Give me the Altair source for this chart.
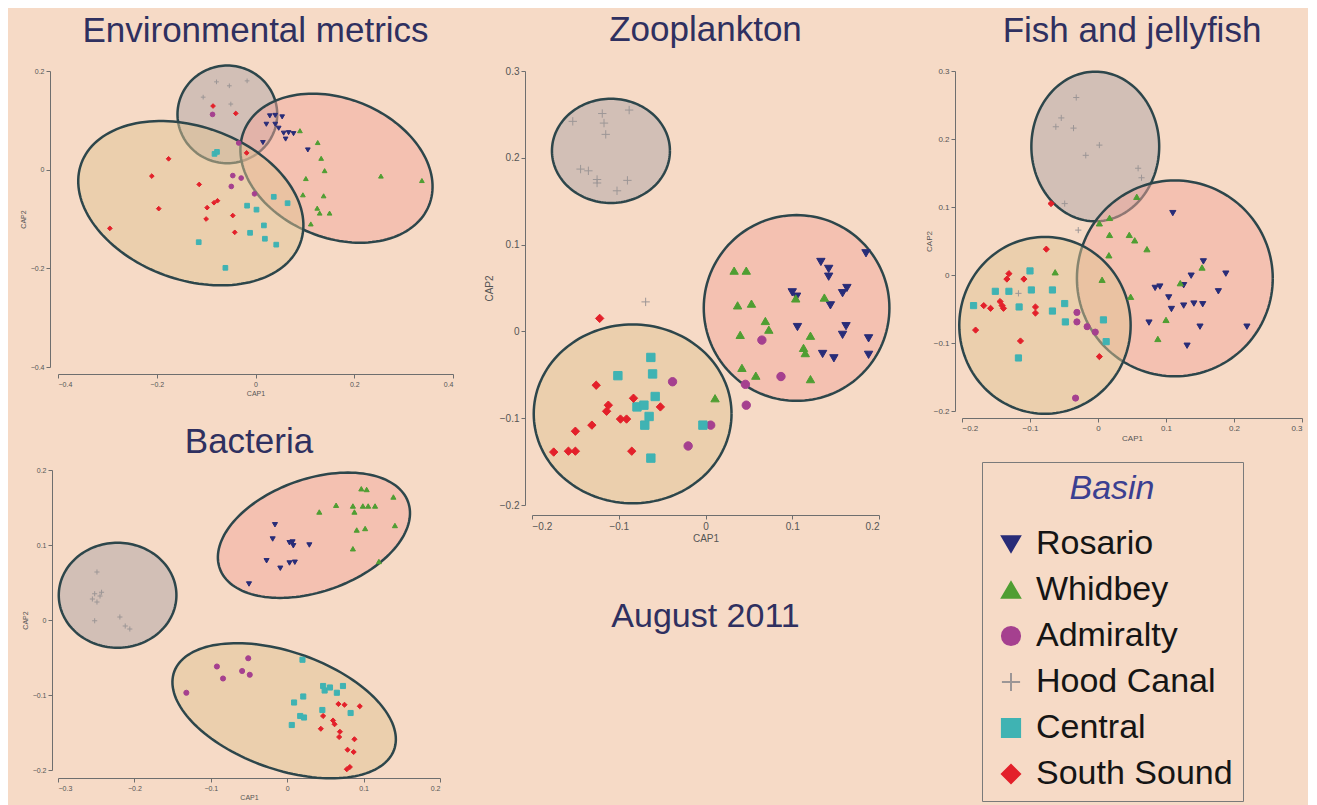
import altair as alt
import numpy as np
import pandas as pd

FONT = "Liberation Sans, Arial, sans-serif"
NAVY = "#2f3060"
BG = "#f6dac6"

BASINS = ["Rosario", "Whidbey", "Admiralty", "Hood Canal", "Central", "South Sound"]
COLORS = ["#282c78", "#4f9e32", "#a5408f", "#9c9696", "#3fb3b3", "#e3202a"]
PLUS = "M-1,0H1M0,-1V1"
SHAPES = ["triangle-down", "triangle-up", "circle", PLUS, "square", "diamond"]

# ---------------- Environmental metrics ----------------
env_rosario = [(0.029, 0.109), (0.040, 0.110), (0.054, 0.107), (0.022, 0.092), (0.040, 0.092),
               (0.047, 0.084), (0.057, 0.074), (0.067, 0.075), (0.077, 0.073), (0.061, 0.062),
               (0.015, 0.055), (0.106, 0.040)]
env_whidbey = [(0.090, 0.079), (0.126, 0.055), (0.133, 0.023), (0.140, -0.002), (0.102, -0.018),
               (0.138, -0.053), (0.096, -0.051), (0.125, -0.078), (0.130, -0.088), (0.150, -0.088),
               (0.112, -0.110), (0.254, -0.013), (0.337, -0.022)]
env_admiralty = [(-0.087, 0.112), (-0.034, 0.054), (-0.046, -0.012), (-0.049, -0.034),
                 (-0.029, -0.017), (-0.002, -0.049)]
env_hood = [(-0.079, 0.178), (-0.053, 0.170), (-0.017, 0.180), (-0.106, 0.147), (-0.050, 0.133)]
env_central = [(-0.083, 0.032), (-0.078, 0.036), (-0.017, -0.073), (0.002, -0.081), (0.037, -0.055),
               (0.065, -0.068), (0.017, -0.113), (-0.011, -0.128), (0.019, -0.140), (0.042, -0.152),
               (-0.115, -0.147), (-0.061, -0.199)]
env_south = [(-0.086, 0.129), (-0.040, 0.114), (-0.018, 0.034), (-0.176, 0.022), (-0.210, -0.013),
             (-0.114, -0.030), (-0.196, -0.079), (-0.295, -0.119), (-0.098, -0.077), (-0.084, -0.067),
             (-0.077, -0.063), (-0.100, -0.100), (-0.046, -0.093), (-0.042, -0.127)]
# ellipses: (group, cx, cy, semi-axis a, semi-axis b, angle deg)
env_ellipses = [("hood", -0.057, 0.112, 0.101, 0.099, 0),
                ("pink", 0.164, 0.003, 0.202, 0.141, -22),
                ("tan", -0.131, -0.068, 0.236, 0.155, -20)]

# ---------------- Bacteria ----------------
bac_rosario = [(-0.016, 0.127), (-0.019, 0.108), (0.003, 0.103), (0.007, 0.104), (0.008, 0.099),
               (0.029, 0.100), (-0.027, 0.079), (-0.009, 0.069), (0.003, 0.076), (0.010, 0.077),
               (-0.050, 0.048)]
bac_whidbey = [(0.042, 0.144), (0.064, 0.153), (0.086, 0.152), (0.097, 0.175), (0.104, 0.174),
               (0.088, 0.144), (0.099, 0.152), (0.106, 0.152), (0.115, 0.152), (0.139, 0.164),
               (0.091, 0.120), (0.102, 0.122), (0.141, 0.126), (0.086, 0.095), (0.120, 0.078)]
bac_admiralty = [(-0.092, -0.062), (-0.084, -0.078), (-0.051, -0.051), (-0.059, -0.068),
                 (-0.049, -0.073), (-0.132, -0.097)]
bac_hood = [(-0.249, 0.064), (-0.252, 0.035), (-0.255, 0.028), (-0.249, 0.024), (-0.245, 0.032),
            (-0.243, 0.037), (-0.252, -0.001), (-0.219, 0.004), (-0.212, -0.008), (-0.206, -0.012)]
bac_central = [(0.020, -0.053), (0.047, -0.088), (0.049, -0.094), (0.056, -0.090), (0.065, -0.097),
               (0.073, -0.088), (0.021, -0.102), (0.009, -0.110), (0.017, -0.128), (0.022, -0.130),
               (0.006, -0.140), (0.046, -0.120), (0.083, -0.124)]
bac_south = [(0.047, -0.128), (0.067, -0.112), (0.075, -0.113), (0.095, -0.115), (0.060, -0.134),
             (0.062, -0.139), (0.044, -0.145), (0.069, -0.149), (0.068, -0.156), (0.088, -0.159),
             (0.079, -0.173), (0.087, -0.176), (0.078, -0.199), (0.082, -0.196)]
bac_ellipses = [("hood", -0.222, 0.033, 0.077, 0.070, 0),
                ("pink", 0.035, 0.113, 0.131, 0.075, 20),
                ("tan", -0.004, -0.121, 0.153, 0.078, -20)]

# ---------------- Zooplankton ----------------
zoo_rosario = [(0.185, 0.090), (0.133, 0.080), (0.142, 0.072), (0.142, 0.063), (0.163, 0.050),
               (0.158, 0.044), (0.100, 0.045), (0.105, 0.040), (0.144, 0.030), (0.106, 0.005),
               (0.162, 0.006), (0.158, -0.004), (0.188, -0.008), (0.135, -0.026), (0.148, -0.031),
               (0.188, -0.027)]
zoo_whidbey = [(0.033, 0.070), (0.047, 0.070), (0.037, 0.030), (0.053, 0.032), (0.069, 0.012),
               (0.073, 0.002), (0.040, -0.004), (0.121, -0.005), (0.113, -0.019), (0.115, -0.025),
               (0.137, 0.039), (0.042, -0.042), (0.058, -0.051), (0.121, -0.055), (0.011, -0.077),
               (0.104, 0.038)]
zoo_admiralty = [(0.065, -0.010), (0.087, -0.052), (-0.038, -0.058), (0.046, -0.061), (0.047, -0.085),
                 (0.006, -0.108), (-0.020, -0.132)]
zoo_hood = [(-0.153, 0.242), (-0.119, 0.251), (-0.117, 0.240), (-0.115, 0.227), (-0.088, 0.255),
            (-0.144, 0.187), (-0.135, 0.185), (-0.125, 0.175), (-0.125, 0.171), (-0.102, 0.162),
            (-0.090, 0.174), (-0.069, 0.034)]
zoo_central = [(-0.063, -0.030), (-0.101, -0.051), (-0.061, -0.049), (-0.058, -0.075), (-0.079, -0.087),
               (-0.071, -0.085), (-0.065, -0.098), (-0.070, -0.108), (-0.003, -0.108), (-0.063, -0.146)]
zoo_south = [(-0.122, 0.015), (-0.126, -0.062), (-0.083, -0.077), (-0.112, -0.085), (-0.114, -0.092),
             (-0.052, -0.087), (-0.131, -0.108), (-0.098, -0.101), (-0.091, -0.101), (-0.150, -0.115),
             (-0.175, -0.139), (-0.158, -0.138), (-0.150, -0.138), (-0.085, -0.138)]
zoo_ellipses = [("hood", -0.109, 0.208, 0.068, 0.060, 0),
                ("pink", 0.105, 0.027, 0.107, 0.107, 0),
                ("tan", -0.084, -0.095, 0.114, 0.103, 0)]

# ---------------- Fish and jellyfish ----------------
fish_rosario = [(0.110, 0.091), (0.155, 0.020), (0.188, 0.002), (0.137, -0.001), (0.084, -0.019),
                (0.091, -0.017), (0.126, -0.015), (0.177, -0.024), (0.104, -0.033), (0.108, -0.050),
                (0.126, -0.045), (0.141, -0.042), (0.154, -0.043), (0.075, -0.070), (0.150, -0.076),
                (0.131, -0.104), (0.219, -0.076)]
fish_whidbey = [(-0.063, 0.004), (0.057, 0.115), (0.002, 0.076), (0.017, 0.084), (0.017, 0.059),
                (0.046, 0.059), (0.054, 0.051), (0.016, 0.029), (0.072, 0.038), (0.006, -0.007),
                (0.048, -0.032), (0.100, -0.066), (0.088, -0.094), (0.121, -0.012), (0.153, 0.011)]
fish_admiralty = [(-0.031, -0.055), (-0.031, -0.069), (-0.016, -0.076), (-0.004, -0.084), (-0.033, -0.181)]
fish_hood = [(-0.032, 0.261), (-0.054, 0.231), (-0.062, 0.218), (-0.036, 0.216), (0.002, 0.191),
             (-0.018, 0.176), (0.059, 0.157), (0.064, 0.143), (-0.049, 0.105), (-0.029, 0.066),
             (-0.117, -0.027)]
fish_central = [(-0.100, 0.006), (-0.151, -0.024), (-0.131, -0.024), (-0.098, -0.022), (-0.067, -0.022),
                (-0.183, -0.045), (-0.116, -0.047), (-0.049, -0.042), (-0.067, -0.053), (-0.048, -0.069),
                (0.008, -0.066), (0.012, -0.098), (-0.117, -0.122)]
fish_south = [(-0.069, 0.105), (-0.076, 0.038), (-0.131, 0.002), (-0.134, -0.006), (-0.109, -0.006),
              (-0.168, -0.045), (-0.158, -0.049), (-0.144, -0.039), (-0.141, -0.045), (-0.139, -0.049),
              (-0.092, -0.047), (-0.092, -0.056), (-0.180, -0.081), (-0.114, -0.097), (0.002, -0.120)]
fish_ellipses = [("hood", -0.004, 0.189, 0.094, 0.110, 0),
                 ("pink", 0.113, -0.005, 0.144, 0.144, 0),
                 ("tan", -0.078, -0.074, 0.126, 0.130, 0)]

ELLIPSE_FILL = {"hood": "#aea4a6", "pink": "#f2a89c", "tan": "#e0c494"}
OUTLINE = "#2d464b"


def points_df(groups):
    rows = []
    for basin, pts in zip(BASINS, groups):
        for x, y in pts:
            rows.append({"x": x, "y": y, "basin": basin})
    return pd.DataFrame(rows)


def ellipse_df(cx, cy, a, b, ang):
    t = np.linspace(0, 2 * np.pi, 145)
    th = np.deg2rad(ang)
    xs = cx + a * np.cos(t) * np.cos(th) - b * np.sin(t) * np.sin(th)
    ys = cy + a * np.cos(t) * np.sin(th) + b * np.sin(t) * np.cos(th)
    return pd.DataFrame({"x": xs, "y": ys, "k": np.arange(len(t))})


LEGEND = alt.Legend(
    title="Basin", orient="none", legendX=924, legendY=391,
    titleFont=FONT, titleFontSize=34, titleFontStyle="italic", titleFontWeight="normal",
    titleColor="#3b3f91", titleAnchor="middle", titleAlign="center", titlePadding=21,
    labelFont=FONT, labelFontSize=34, labelColor="#151515", labelOffset=8, labelLimit=400,
    symbolSize=330, symbolStrokeWidth=2, symbolOffset=2, rowPadding=12, padding=10,
    strokeColor="#7a7a7a", symbolOpacity=1,
)


def panel(groups, ellipses, xdom, ydom, xvals, yvals, w, h, title, size, lab,
          xoff, yoff, toff, ytpad):
    xs = alt.Scale(domain=xdom, nice=False, zero=False)
    ys = alt.Scale(domain=ydom, nice=False, zero=False)
    xax = alt.Axis(values=xvals, format=".1~f", title="CAP1", offset=xoff, grid=False,
                   labelFontSize=lab, titleFontSize=lab, titleFontWeight="normal",
                   labelColor="#555", titleColor="#555", domainColor="#6e6e6e",
                   tickColor="#6e6e6e", tickSize=4, titlePadding=2, labelPadding=2)
    yax = alt.Axis(values=yvals, format=".1~f", title="CAP2", offset=yoff, grid=False,
                   labelFontSize=lab, titleFontSize=lab, titleFontWeight="normal",
                   labelColor="#555", titleColor="#555", domainColor="#6e6e6e",
                   tickColor="#6e6e6e", tickSize=4, titlePadding=ytpad, labelPadding=2)
    layers = []
    for name, cx, cy, a, b, ang in ellipses:
        layers.append(
            alt.Chart(ellipse_df(cx, cy, a, b, ang)).mark_line(
                fill=ELLIPSE_FILL[name], fillOpacity=0.5, stroke=OUTLINE, strokeWidth=2.5
            ).encode(
                x=alt.X("x:Q", scale=xs, axis=xax),
                y=alt.Y("y:Q", scale=ys, axis=yax),
                order="k:Q",
            )
        )
    cscale = alt.Scale(domain=BASINS, range=COLORS)
    pts = alt.Chart(points_df(groups)).mark_point(
        filled=True, size=size, opacity=1, strokeWidth=1
    ).encode(
        x=alt.X("x:Q", scale=xs, axis=xax),
        y=alt.Y("y:Q", scale=ys, axis=yax),
        shape=alt.Shape("basin:N", scale=alt.Scale(domain=BASINS, range=SHAPES), legend=LEGEND),
        fill=alt.Fill("basin:N", scale=cscale, legend=LEGEND),
        stroke=alt.Stroke("basin:N", scale=cscale, legend=LEGEND),
    )
    layers.append(pts)
    return alt.layer(*layers).properties(
        width=w, height=h,
        title=alt.TitleParams(title, font=FONT, fontSize=35, fontWeight="normal",
                              color=NAVY, anchor="middle", offset=toff),
    )


env = panel([env_rosario, env_whidbey, env_admiralty, env_hood, env_central, env_south],
            env_ellipses, [-0.4, 0.4], [-0.4, 0.2], [-0.4, -0.2, 0, 0.2, 0.4],
            [-0.4, -0.2, 0, 0.2], 395, 296, "Environmental metrics", 22, 7, 7, 8, 12, 4)
bac = panel([bac_rosario, bac_whidbey, bac_admiralty, bac_hood, bac_central, bac_south],
            bac_ellipses, [-0.3, 0.2], [-0.2, 0.2], [-0.3, -0.2, -0.1, 0, 0.1, 0.2],
            [-0.2, -0.1, 0, 0.1, 0.2], 382, 300, "Bacteria", 26, 7, 8, 6, 6, 4)
zoo = panel([zoo_rosario, zoo_whidbey, zoo_admiralty, zoo_hood, zoo_central, zoo_south],
            zoo_ellipses, [-0.2, 0.2], [-0.2, 0.3], [-0.2, -0.1, 0, 0.1, 0.2],
            [-0.2, -0.1, 0, 0.1, 0.2, 0.3], 347, 434, "Zooplankton", 70, 10, 10, 7, 18, 5)
fish = panel([fish_rosario, fish_whidbey, fish_admiralty, fish_hood, fish_central, fish_south],
             fish_ellipses, [-0.2, 0.3], [-0.2, 0.3], [-0.2, -0.1, 0, 0.1, 0.2, 0.3],
             [-0.2, -0.1, 0, 0.1, 0.2, 0.3], 340, 340, "Fish and jellyfish", 38, 8, 7, 7, 18, 0)

date_label = ["August 2011"]
date = alt.Chart(pd.DataFrame({"label": date_label})).mark_text(
    font=FONT, fontSize=34, color=NAVY, baseline="middle", align="center"
).encode(text="label:N").properties(width=347, height=40)

col1 = alt.vconcat(env, bac, spacing=29)
col2 = alt.vconcat(zoo, date, spacing=54)
col3 = alt.vconcat(fish)

chart = alt.hconcat(col1, col2, col3, spacing=30).properties(
    background=BG, padding={"left": 11, "top": 5, "right": 5, "bottom": 5}
).configure_view(stroke=None)

chart.save("out.html", embed_options={"renderer": "svg", "actions": False})
